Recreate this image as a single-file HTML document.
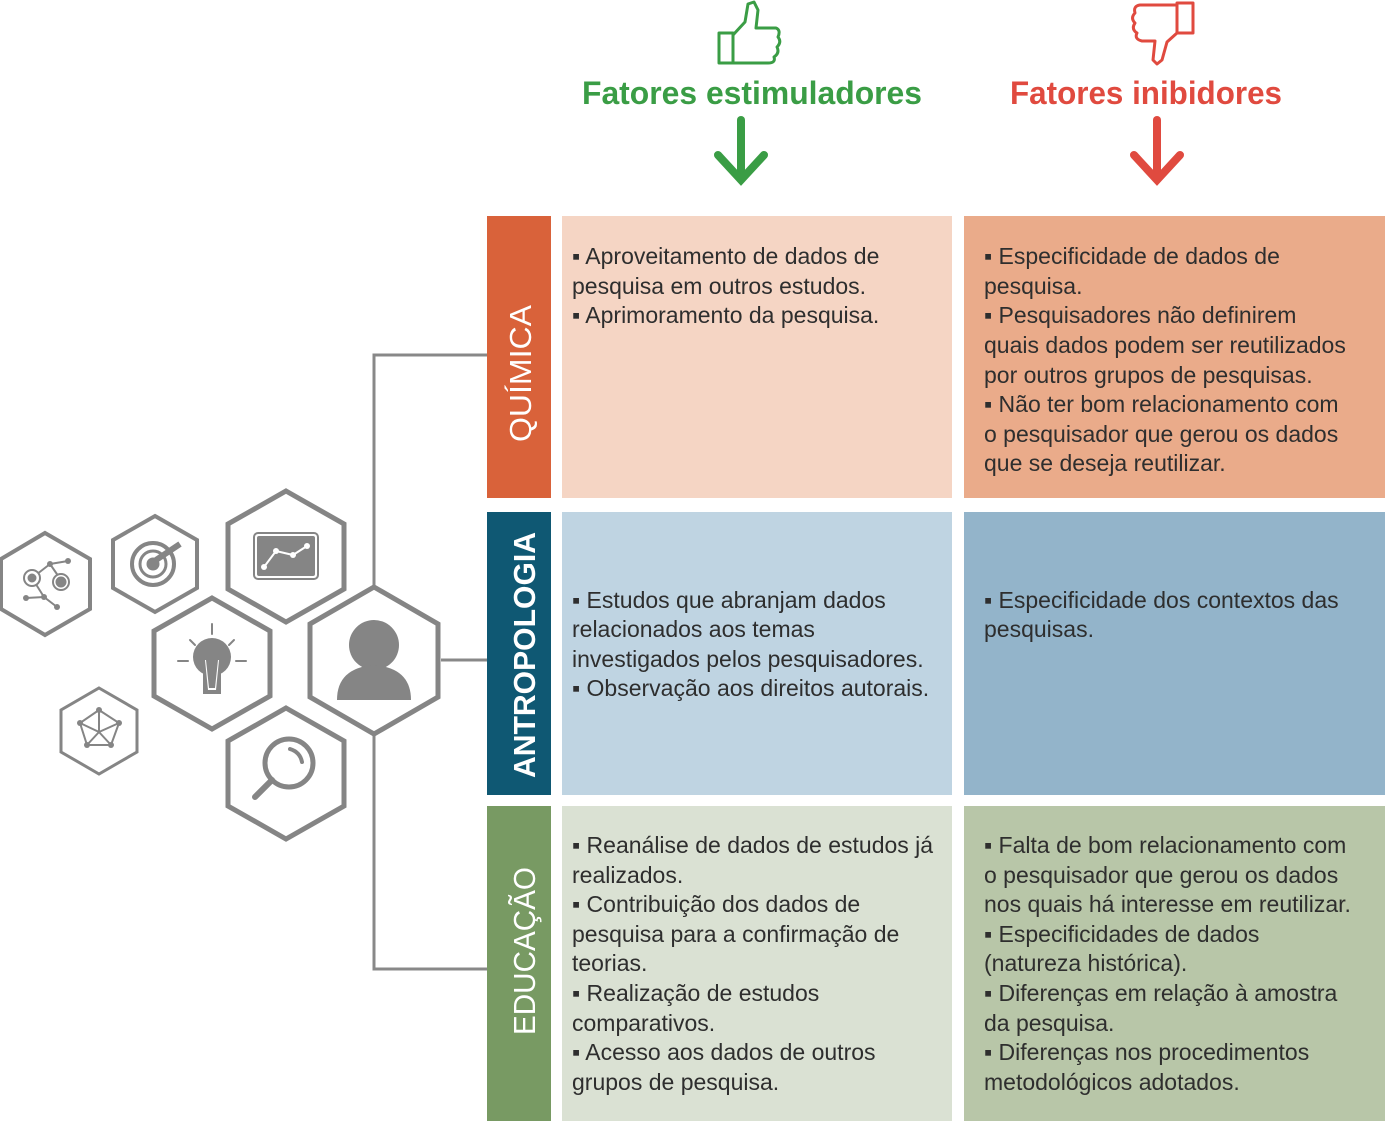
<!DOCTYPE html>
<html><head><meta charset="utf-8"><style>
html,body{margin:0;padding:0;background:#fff}
svg{display:block}
.t{font-family:"Liberation Sans",sans-serif;font-size:23px;fill:#2e2e2e}
</style></head><body>
<svg width="1385" height="1134" viewBox="0 0 1385 1134" xmlns="http://www.w3.org/2000/svg">
<g fill="none" stroke="#3a9d45" stroke-width="3" stroke-linejoin="round">
<rect x="719" y="33" width="14" height="30"/>
<path d="M733 35 L745 22 L748 4 L754 2 L758 10 L756 28 L776 28 Q781 30 778 37 Q782 42 777 47 Q780 53 774 57 Q776 63 768 63 L733 63"/>
</g>
<text x="582" y="104" textLength="340" lengthAdjust="spacingAndGlyphs" font-family="Liberation Sans, sans-serif" font-size="32" font-weight="bold" fill="#3a9d45">Fatores estimuladores</text>
<g stroke="#3a9d45" stroke-width="8" fill="none" stroke-linecap="round"><line x1="741" y1="120" x2="741" y2="178"/><polyline points="718,155 741,180 764,155"/></g>
<g fill="none" stroke="#e04a3f" stroke-width="3" stroke-linejoin="round">
<rect x="1177" y="3" width="16" height="30"/>
<path d="M1177 5 L1140 5 Q1133 6 1135 13 Q1130 18 1135 23 Q1131 29 1137 33 Q1134 39 1142 41 L1155 41 L1153 60 L1157 64 L1162 60 L1167 42 L1177 33"/>
</g>
<text x="1010" y="104" textLength="272" lengthAdjust="spacingAndGlyphs" font-family="Liberation Sans, sans-serif" font-size="32" font-weight="bold" fill="#e04a3f">Fatores inibidores</text>
<g stroke="#e04a3f" stroke-width="8" fill="none" stroke-linecap="round"><line x1="1157" y1="120" x2="1157" y2="178"/><polyline points="1134,155 1157,180 1180,155"/></g>

<g stroke="#888" stroke-width="3" fill="none">
<polyline points="487,355 374,355 374,969 487,969"/>
<line x1="441" y1="660" x2="487" y2="660"/>
</g>

<rect x="487" y="216" width="64" height="282" fill="#d9623a"/>
<rect x="562" y="216" width="390" height="282" fill="#f5d5c4"/>
<rect x="964" y="216" width="421" height="282" fill="#eaab8a"/>
<rect x="487" y="512" width="64" height="283" fill="#0f5873"/>
<rect x="562" y="512" width="390" height="283" fill="#bfd4e2"/>
<rect x="964" y="512" width="421" height="283" fill="#93b4ca"/>
<rect x="487" y="806" width="64" height="315" fill="#789a63"/>
<rect x="562" y="806" width="390" height="315" fill="#dae1d3"/>
<rect x="964" y="806" width="421" height="315" fill="#b8c6a8"/>

<g font-family="Liberation Sans, sans-serif" font-size="31" fill="#fff">
<text transform="translate(531,442) rotate(-90)" textLength="137" lengthAdjust="spacingAndGlyphs">QUÍMICA</text>
<text transform="translate(535,778) rotate(-90)" textLength="246" lengthAdjust="spacingAndGlyphs" font-weight="bold">ANTROPOLOGIA</text>
<text transform="translate(535,1035) rotate(-90)" textLength="168" lengthAdjust="spacingAndGlyphs">EDUCAÇÃO</text>
</g>

<g class="t">
<text x="572" y="264">▪ Aproveitamento de dados de</text>
<text x="572" y="294">pesquisa em outros estudos.</text>
<text x="572" y="323">▪ Aprimoramento da pesquisa.</text>

<text x="984" y="264">▪ Especificidade de dados de</text>
<text x="984" y="294">pesquisa.</text>
<text x="984" y="323">▪ Pesquisadores não definirem</text>
<text x="984" y="353">quais dados podem ser reutilizados</text>
<text x="984" y="383">por outros grupos de pesquisas.</text>
<text x="984" y="412">▪ Não ter bom relacionamento com</text>
<text x="984" y="442">o pesquisador que gerou os dados</text>
<text x="984" y="471">que se deseja reutilizar.</text>

<text x="572" y="608">▪ Estudos que abranjam dados</text>
<text x="572" y="637">relacionados aos temas</text>
<text x="572" y="667">investigados pelos pesquisadores.</text>
<text x="572" y="696">▪ Observação aos direitos autorais.</text>

<text x="984" y="608">▪ Especificidade dos contextos das</text>
<text x="984" y="637">pesquisas.</text>

<text x="572" y="853">▪ Reanálise de dados de estudos já</text>
<text x="572" y="883">realizados.</text>
<text x="572" y="912">▪ Contribuição dos dados de</text>
<text x="572" y="942">pesquisa para a confirmação de</text>
<text x="572" y="971">teorias.</text>
<text x="572" y="1001">▪ Realização de estudos</text>
<text x="572" y="1031">comparativos.</text>
<text x="572" y="1060">▪ Acesso aos dados de outros</text>
<text x="572" y="1090">grupos de pesquisa.</text>

<text x="984" y="853">▪ Falta de bom relacionamento com</text>
<text x="984" y="883">o pesquisador que gerou os dados</text>
<text x="984" y="912">nos quais há interesse em reutilizar.</text>
<text x="984" y="942">▪ Especificidades de dados</text>
<text x="984" y="971">(natureza histórica).</text>
<text x="984" y="1001">▪ Diferenças em relação à amostra</text>
<text x="984" y="1031">da pesquisa.</text>
<text x="984" y="1060">▪ Diferenças nos procedimentos</text>
<text x="984" y="1090">metodológicos adotados.</text>
</g>

<g fill="#fff" stroke="#858585" stroke-linejoin="miter">
<polygon stroke-width="5" points="374,587 438,624 438,697 374,734 310,697 310,624"/>
<polygon stroke-width="5" points="286,491 344,524 344,589 286,622 228,589 228,524"/>
<polygon stroke-width="5" points="212,598 270,631 270,696 212,729 154,696 154,631"/>
<polygon stroke-width="5" points="286,708 344,741 344,806 286,839 228,806 228,741"/>
<polygon stroke-width="4" points="155,516 197,540 197,588 155,612 113,588 113,540"/>
<polygon stroke-width="4" points="45,533 90,559 90,609 45,635 1,609 1,559"/>
<polygon stroke-width="3" points="99,688 137,710 137,752 99,774 61,752 61,710"/>
</g>
<g fill="#858585" stroke="#858585">
<circle cx="374" cy="645" r="25" stroke="none"/>
<path d="M337 700 Q337 668 374 665 Q411 668 411 700 Z" stroke="none"/>
<rect x="254" y="533" width="64" height="46" rx="4" fill="none" stroke-width="2"/>
<rect x="257" y="536" width="58" height="40" rx="2" stroke="none"/>
<polyline points="264,567 276,551 293,555 307,546" fill="none" stroke="#fff" stroke-width="2"/>
<g fill="#fff" stroke="none"><circle cx="264" cy="567" r="3"/><circle cx="276" cy="551" r="3"/><circle cx="293" cy="555" r="3"/><circle cx="307" cy="546" r="3"/></g>
<circle cx="212" cy="657" r="19" stroke="none"/>
<rect x="203" y="672" width="18" height="22" stroke="none"/>
<path d="M205 660 L219 660 L216 690 L208 690 Z" fill="#fff" stroke="none"/>
<path d="M206 660 L218 660 L215 688 L209 688 Z" fill="#858585" stroke="none"/>
<g stroke-width="2" stroke-linecap="round"><line x1="212" y1="624" x2="212" y2="634"/><line x1="178" y1="661" x2="188" y2="661"/><line x1="236" y1="661" x2="246" y2="661"/><line x1="190" y1="640" x2="195" y2="645"/><line x1="234" y1="640" x2="229" y2="645"/></g>
<circle cx="289" cy="763" r="24" fill="none" stroke-width="5"/>
<path d="M290 749 Q300 752 302 762" fill="none" stroke-width="4" stroke-linecap="round"/>
<line x1="272" y1="780" x2="255" y2="797" stroke-width="6" stroke-linecap="round"/>
<circle cx="153" cy="564" r="21" fill="none" stroke-width="4"/>
<circle cx="153" cy="564" r="13" fill="none" stroke-width="3"/>
<circle cx="153" cy="564" r="6"/>
<line x1="156" y1="560" x2="180" y2="544" stroke-width="6"/>
<g stroke-width="2" fill="none"><polyline points="26,598 44,597 57,607"/><line x1="44" y1="597" x2="32" y2="578"/><line x1="32" y1="578" x2="50" y2="564"/><line x1="50" y1="564" x2="68" y2="561"/><line x1="50" y1="564" x2="61" y2="580"/></g>
<circle cx="32" cy="578" r="8" fill="#fff" stroke-width="2"/><circle cx="32" cy="578" r="4"/>
<circle cx="61" cy="582" r="8" fill="#fff" stroke-width="2"/><circle cx="61" cy="582" r="5"/>
<g stroke="none"><circle cx="50" cy="564" r="3"/><circle cx="68" cy="561" r="3"/><circle cx="26" cy="598" r="3"/><circle cx="44" cy="597" r="3"/><circle cx="57" cy="607" r="3"/></g>
<g stroke-width="2" fill="none"><polygon points="99,710 119,723 111,745 87,745 80,723"/><line x1="99" y1="710" x2="99" y2="732"/><line x1="80" y1="723" x2="99" y2="732"/><line x1="119" y1="723" x2="99" y2="732"/><line x1="87" y1="745" x2="99" y2="732"/><line x1="111" y1="745" x2="99" y2="732"/></g>
<g stroke="none"><circle cx="99" cy="710" r="3"/><circle cx="119" cy="723" r="3"/><circle cx="111" cy="745" r="3"/><circle cx="87" cy="745" r="3"/><circle cx="80" cy="723" r="3"/></g>
</g>
</svg>
</body></html>
